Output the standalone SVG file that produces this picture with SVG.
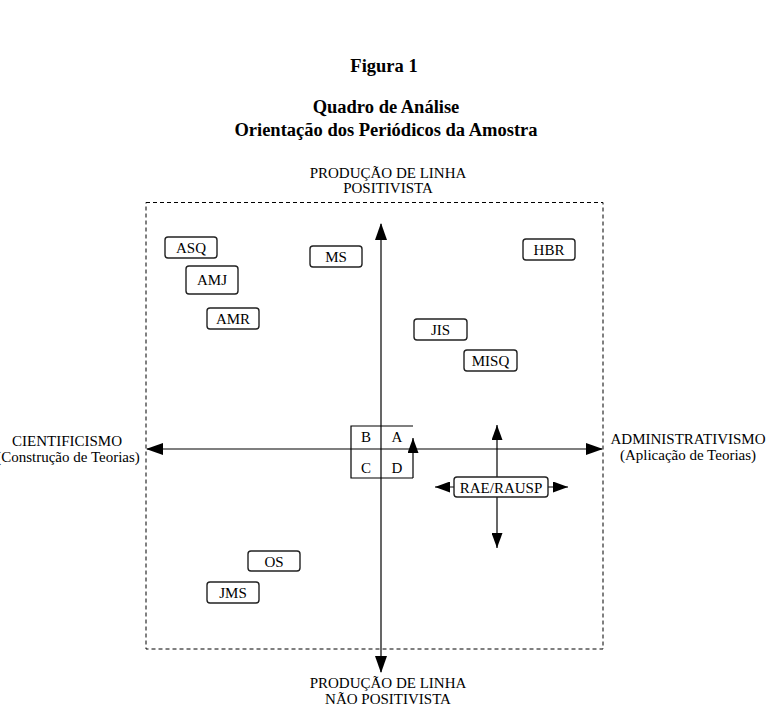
<svg xmlns="http://www.w3.org/2000/svg" width="769" height="719" viewBox="0 0 769 719">
<style>
text{font-family:"Liberation Serif","Times New Roman",serif;fill:#000;text-anchor:middle}
.t{font-size:18.5px;font-weight:bold}
.l{font-size:15px}
.n rect{fill:#fff;stroke:#222;stroke-width:1.4}
.ln{stroke:#000;stroke-width:1.2;fill:none}
</style>
<defs>
<marker id="ah" markerUnits="userSpaceOnUse" markerWidth="17" markerHeight="12" refX="16" refY="6" orient="auto-start-reverse"><path d="M0,0 L17,6 L0,12 z" fill="#000"/></marker>
<marker id="as" markerUnits="userSpaceOnUse" markerWidth="15" markerHeight="11" refX="15" refY="5.5" orient="auto-start-reverse"><path d="M0,0 L15,5.5 L0,11 z" fill="#000"/></marker>
</defs>
<rect width="769" height="719" fill="#fff"/>
<g id="title">
<text class="t" x="384" y="72">Figura 1</text>
<text class="t" x="386" y="113">Quadro de Análise</text>
<text class="t" x="386" y="136">Orientação dos Periódicos da Amostra</text>
</g>
<g id="frame"><rect x="146" y="202.5" width="457" height="446.5" fill="none" stroke="#000" stroke-width="1" stroke-dasharray="4,3"/></g>
<g id="connectors">
<line class="ln" x1="381" y1="224" x2="381" y2="672" marker-start="url(#ah)" marker-end="url(#ah)"/>
<line class="ln" x1="147" y1="449" x2="602" y2="449" marker-start="url(#ah)" marker-end="url(#ah)"/>
<polyline class="ln" points="413,426 351,426 351,478 413,478"/>
<line class="ln" x1="413" y1="478" x2="413" y2="438" marker-end="url(#as)"/>
<line class="ln" x1="497" y1="425" x2="497" y2="548" marker-start="url(#as)" marker-end="url(#as)"/>
<line class="ln" x1="435" y1="487" x2="568" y2="487" marker-start="url(#as)" marker-end="url(#as)"/>
</g>
<g id="quadrants">
<text class="l" x="366" y="442">B</text>
<text class="l" x="397" y="442">A</text>
<text class="l" x="366" y="473">C</text>
<text class="l" x="397" y="473">D</text>
</g>
<g id="top-label"><text class="l" x="388" y="178">PRODUÇÃO DE LINHA</text><text class="l" x="388" y="193">POSITIVISTA</text></g>
<g id="bottom-label"><text class="l" x="388" y="688">PRODUÇÃO DE LINHA</text><text class="l" x="388" y="704">NÃO POSITIVISTA</text></g>
<g id="left-label"><text class="l" x="67" y="446">CIENTIFICISMO</text><text class="l" x="68" y="462">(Construção de Teorias)</text></g>
<g id="right-label"><text class="l" x="688" y="444">ADMINISTRATIVISMO</text><text class="l" x="688" y="460">(Aplicação de Teorias)</text></g>
<g id="ASQ" class="n"><rect x="165" y="237" width="52" height="21" rx="3"/><text class="l" x="191" y="253">ASQ</text></g>
<g id="AMJ" class="n"><rect x="186" y="266" width="52" height="28" rx="3"/><text class="l" x="212" y="285">AMJ</text></g>
<g id="AMR" class="n"><rect x="207" y="308" width="52" height="21" rx="3"/><text class="l" x="233" y="324">AMR</text></g>
<g id="MS" class="n"><rect x="310" y="246" width="52" height="21" rx="3"/><text class="l" x="336" y="262">MS</text></g>
<g id="HBR" class="n"><rect x="523" y="239" width="52" height="21" rx="3"/><text class="l" x="549" y="255">HBR</text></g>
<g id="JIS" class="n"><rect x="414" y="319" width="53" height="21" rx="3"/><text class="l" x="440.5" y="335">JIS</text></g>
<g id="MISQ" class="n"><rect x="464" y="350" width="53" height="21" rx="3"/><text class="l" x="490.5" y="366">MISQ</text></g>
<g id="RAE-RAUSP" class="n"><rect x="454" y="477" width="94" height="20" rx="3"/><text class="l" x="501" y="492.5">RAE/RAUSP</text></g>
<g id="OS" class="n"><rect x="248" y="551" width="52" height="20" rx="3"/><text class="l" x="274" y="566.5">OS</text></g>
<g id="JMS" class="n"><rect x="207" y="582" width="52" height="21" rx="3"/><text class="l" x="233" y="598">JMS</text></g>
</svg>
